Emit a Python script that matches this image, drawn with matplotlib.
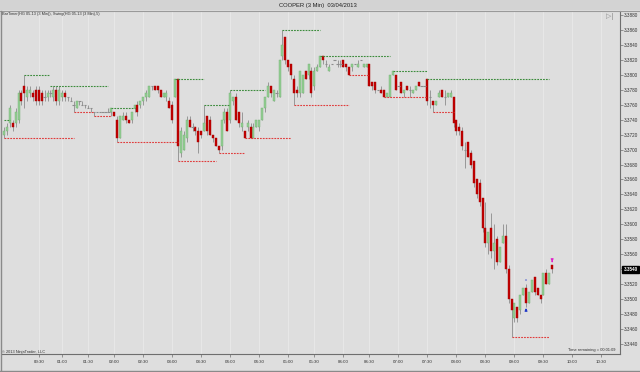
import numpy as np
import matplotlib
matplotlib.use("Agg")
import matplotlib.pyplot as plt
from matplotlib.patches import Rectangle
from matplotlib.lines import Line2D

# ── Data: HG 05-13, 3 min bars (bar index on x) ───────────────
opens = [
    3.3720, 3.3725, 3.3735, 3.3735, 3.3735, 3.3740, 3.3775, 3.3785, 3.3770, 3.3775,
    3.3775, 3.3780, 3.3780, 3.3775, 3.3770, 3.3770, 3.3775, 3.3770, 3.3780, 3.3765,
    3.3770, 3.3775, 3.3770, 3.3765, 3.3760, 3.3755, 3.3765, 3.3760, 3.3760, 3.3755,
    3.3755, 3.3750, 3.3750, 3.3750, 3.3750, 3.3750, 3.3750, 3.3750, 3.3750, 3.3740,
    3.3715, 3.3740, 3.3745, 3.3740, 3.3740, 3.3755, 3.3760, 3.3760, 3.3765, 3.3770,
    3.3770, 3.3785, 3.3785, 3.3785, 3.3780, 3.3770, 3.3770, 3.3765, 3.3760, 3.3770,
    3.3795, 3.3695, 3.3700, 3.3715, 3.3740, 3.3730, 3.3730, 3.3725, 3.3725, 3.3725,
    3.3745, 3.3740, 3.3720, 3.3715, 3.3705, 3.3705, 3.3740, 3.3750, 3.3740, 3.3765,
    3.3770, 3.3750, 3.3730, 3.3725, 3.3730, 3.3730, 3.3715, 3.3730, 3.3730, 3.3740,
    3.3755, 3.3770, 3.3785, 3.3765, 3.3775, 3.3770, 3.3825, 3.3850, 3.3820, 3.3815,
    3.3795, 3.3780, 3.3775, 3.3775, 3.3805, 3.3800, 3.3805, 3.3785, 3.3805, 3.3810,
    3.3825, 3.3815, 3.3805, 3.3815, 3.3820, 3.3815, 3.3815, 3.3820, 3.3815, 3.3810,
    3.3810, 3.3815, 3.3810, 3.3820, 3.3810, 3.3810, 3.3815, 3.3790, 3.3790, 3.3780,
    3.3780, 3.3780, 3.3770, 3.3770, 3.3800, 3.3800, 3.3785, 3.3790, 3.3775, 3.3785,
    3.3780, 3.3775, 3.3780, 3.3790, 3.3785, 3.3785, 3.3795, 3.3770, 3.3765, 3.3760,
    3.3770, 3.3780, 3.3770, 3.3770, 3.3770, 3.3770, 3.3740, 3.3730, 3.3725, 3.3700,
    3.3710, 3.3695, 3.3685, 3.3660, 3.3655, 3.3635, 3.3595, 3.3575, 3.3595, 3.3565,
    3.3580, 3.3550, 3.3575, 3.3585, 3.3540, 3.3500, 3.3475, 3.3490, 3.3485, 3.3505,
    3.3515, 3.3495, 3.3510, 3.3530, 3.3515, 3.3505, 3.3505, 3.3535, 3.3520, 3.3545,
]
highs = [
    3.3730, 3.3735, 3.3760, 3.3740, 3.3755, 3.3780, 3.3780, 3.3800, 3.3785, 3.3785,
    3.3780, 3.3785, 3.3785, 3.3780, 3.3780, 3.3780, 3.3780, 3.3785, 3.3785, 3.3785,
    3.3780, 3.3780, 3.3770, 3.3770, 3.3765, 3.3765, 3.3765, 3.3765, 3.3760, 3.3760,
    3.3755, 3.3750, 3.3750, 3.3750, 3.3750, 3.3750, 3.3755, 3.3755, 3.3750, 3.3745,
    3.3745, 3.3750, 3.3750, 3.3740, 3.3750, 3.3760, 3.3765, 3.3765, 3.3770, 3.3780,
    3.3785, 3.3785, 3.3785, 3.3785, 3.3780, 3.3775, 3.3780, 3.3770, 3.3765, 3.3795,
    3.3795, 3.3730, 3.3725, 3.3745, 3.3745, 3.3735, 3.3730, 3.3730, 3.3725, 3.3760,
    3.3745, 3.3745, 3.3720, 3.3715, 3.3705, 3.3740, 3.3755, 3.3755, 3.3780, 3.3770,
    3.3775, 3.3750, 3.3750, 3.3725, 3.3740, 3.3735, 3.3735, 3.3740, 3.3740, 3.3755,
    3.3770, 3.3790, 3.3785, 3.3780, 3.3780, 3.3820, 3.3860, 3.3850, 3.3820, 3.3815,
    3.3800, 3.3785, 3.3805, 3.3800, 3.3805, 3.3815, 3.3810, 3.3810, 3.3815, 3.3825,
    3.3825, 3.3820, 3.3815, 3.3815, 3.3820, 3.3820, 3.3820, 3.3820, 3.3815, 3.3810,
    3.3815, 3.3815, 3.3820, 3.3820, 3.3815, 3.3815, 3.3815, 3.3790, 3.3790, 3.3780,
    3.3785, 3.3780, 3.3775, 3.3800, 3.3805, 3.3800, 3.3785, 3.3790, 3.3780, 3.3785,
    3.3785, 3.3780, 3.3785, 3.3790, 3.3785, 3.3785, 3.3795, 3.3780, 3.3765, 3.3765,
    3.3780, 3.3780, 3.3780, 3.3775, 3.3780, 3.3770, 3.3740, 3.3735, 3.3730, 3.3710,
    3.3710, 3.3700, 3.3685, 3.3660, 3.3660, 3.3635, 3.3630, 3.3590, 3.3615, 3.3600,
    3.3585, 3.3570, 3.3600, 3.3600, 3.3545, 3.3500, 3.3495, 3.3490, 3.3505, 3.3515,
    3.3520, 3.3510, 3.3525, 3.3530, 3.3515, 3.3505, 3.3535, 3.3540, 3.3535, 3.3545,
]
lows = [
    3.3715, 3.3720, 3.3730, 3.3725, 3.3730, 3.3735, 3.3760, 3.3755, 3.3765, 3.3770,
    3.3765, 3.3760, 3.3760, 3.3760, 3.3765, 3.3765, 3.3770, 3.3765, 3.3760, 3.3760,
    3.3765, 3.3765, 3.3765, 3.3765, 3.3750, 3.3755, 3.3760, 3.3760, 3.3755, 3.3755,
    3.3750, 3.3745, 3.3750, 3.3750, 3.3750, 3.3750, 3.3750, 3.3745, 3.3745, 3.3710,
    3.3715, 3.3740, 3.3735, 3.3735, 3.3735, 3.3750, 3.3745, 3.3755, 3.3760, 3.3765,
    3.3770, 3.3780, 3.3780, 3.3775, 3.3770, 3.3770, 3.3765, 3.3755, 3.3735, 3.3770,
    3.3685, 3.3690, 3.3700, 3.3710, 3.3730, 3.3725, 3.3720, 3.3695, 3.3715, 3.3725,
    3.3720, 3.3720, 3.3710, 3.3705, 3.3695, 3.3700, 3.3735, 3.3725, 3.3735, 3.3760,
    3.3740, 3.3730, 3.3725, 3.3715, 3.3725, 3.3715, 3.3715, 3.3730, 3.3725, 3.3740,
    3.3750, 3.3770, 3.3770, 3.3765, 3.3770, 3.3770, 3.3820, 3.3815, 3.3805, 3.3795,
    3.3760, 3.3770, 3.3770, 3.3775, 3.3795, 3.3795, 3.3770, 3.3780, 3.3805, 3.3810,
    3.3815, 3.3810, 3.3805, 3.3815, 3.3820, 3.3810, 3.3810, 3.3810, 3.3805, 3.3800,
    3.3805, 3.3815, 3.3810, 3.3820, 3.3810, 3.3810, 3.3785, 3.3780, 3.3775, 3.3780,
    3.3775, 3.3770, 3.3770, 3.3770, 3.3800, 3.3780, 3.3785, 3.3775, 3.3770, 3.3780,
    3.3770, 3.3775, 3.3780, 3.3785, 3.3785, 3.3785, 3.3760, 3.3755, 3.3750, 3.3760,
    3.3770, 3.3770, 3.3760, 3.3770, 3.3770, 3.3730, 3.3720, 3.3720, 3.3700, 3.3675,
    3.3690, 3.3675, 3.3650, 3.3635, 3.3625, 3.3590, 3.3570, 3.3560, 3.3555, 3.3540,
    3.3545, 3.3550, 3.3575, 3.3535, 3.3495, 3.3450, 3.3470, 3.3470, 3.3480, 3.3505,
    3.3490, 3.3495, 3.3510, 3.3505, 3.3505, 3.3495, 3.3505, 3.3520, 3.3520, 3.3535,
]
closes = [
    3.3725, 3.3730, 3.3755, 3.3730, 3.3750, 3.3775, 3.3765, 3.3775, 3.3780, 3.3780,
    3.3770, 3.3765, 3.3765, 3.3765, 3.3770, 3.3775, 3.3775, 3.3780, 3.3765, 3.3780,
    3.3775, 3.3770, 3.3770, 3.3765, 3.3760, 3.3765, 3.3765, 3.3760, 3.3760, 3.3755,
    3.3755, 3.3750, 3.3750, 3.3750, 3.3750, 3.3750, 3.3750, 3.3755, 3.3745, 3.3715,
    3.3745, 3.3745, 3.3740, 3.3735, 3.3750, 3.3760, 3.3750, 3.3765, 3.3770, 3.3775,
    3.3785, 3.3785, 3.3780, 3.3780, 3.3770, 3.3775, 3.3775, 3.3755, 3.3740, 3.3795,
    3.3705, 3.3725, 3.3720, 3.3740, 3.3730, 3.3730, 3.3725, 3.3710, 3.3720, 3.3735,
    3.3725, 3.3720, 3.3715, 3.3705, 3.3700, 3.3740, 3.3750, 3.3725, 3.3775, 3.3770,
    3.3740, 3.3735, 3.3735, 3.3715, 3.3735, 3.3715, 3.3730, 3.3740, 3.3740, 3.3755,
    3.3770, 3.3785, 3.3775, 3.3780, 3.3775, 3.3820, 3.3840, 3.3820, 3.3810, 3.3800,
    3.3775, 3.3775, 3.3805, 3.3800, 3.3795, 3.3815, 3.3775, 3.3805, 3.3810, 3.3825,
    3.3820, 3.3815, 3.3810, 3.3815, 3.3820, 3.3815, 3.3815, 3.3810, 3.3810, 3.3800,
    3.3815, 3.3815, 3.3815, 3.3820, 3.3815, 3.3815, 3.3785, 3.3785, 3.3780, 3.3780,
    3.3775, 3.3770, 3.3775, 3.3800, 3.3805, 3.3780, 3.3785, 3.3775, 3.3780, 3.3780,
    3.3780, 3.3780, 3.3785, 3.3785, 3.3785, 3.3785, 3.3765, 3.3770, 3.3760, 3.3765,
    3.3775, 3.3770, 3.3770, 3.3775, 3.3775, 3.3735, 3.3725, 3.3725, 3.3705, 3.3700,
    3.3690, 3.3680, 3.3655, 3.3640, 3.3630, 3.3595, 3.3575, 3.3590, 3.3565, 3.3575,
    3.3550, 3.3570, 3.3585, 3.3540, 3.3500, 3.3485, 3.3495, 3.3475, 3.3505, 3.3515,
    3.3495, 3.3510, 3.3525, 3.3510, 3.3505, 3.3500, 3.3535, 3.3520, 3.3535, 3.3540,
]

# Swing indicator (strength 5): start bar, end bar, price
swing_hi_start = [0, 7, 16, 37, 59, 69, 78, 96, 109, 134, 146]
swing_hi_end   = [2, 16, 36, 45, 69, 78, 90, 109, 133, 146, 188]
swing_hi_price = [3.3740, 3.3800, 3.3785, 3.3755, 3.3795, 3.3760, 3.3780,
                  3.3860, 3.3825, 3.3805, 3.3795]
swing_lo_start = [0, 24, 31, 39, 60, 74, 83, 100, 119, 131, 148, 175]
swing_lo_end   = [24, 31, 37, 60, 73, 83, 99, 119, 126, 146, 155, 188]
swing_lo_price = [3.3715, 3.3750, 3.3745, 3.3710, 3.3685, 3.3695, 3.3715,
                  3.3760, 3.3800, 3.3770, 3.3750, 3.3450]

# entry signals (bar index)
long_signal_bars = [180]
short_signal_bars = [189]

# time axis labels (bar index where each half hour starts)
time_tick_bars = [12, 20, 29, 38, 48, 58, 68, 78, 88, 98, 107, 117, 126, 136,
                  146, 156, 166, 176, 186, 196, 206]
time_tick_labels = ["00:30", "01:00", "01:30", "02:00", "02:30", "03:00", "03:30",
                    "04:00", "04:30", "05:00", "05:30", "06:00", "06:30", "07:00",
                    "07:30", "08:00", "08:30", "09:00", "09:30", "10:00", "10:30"]
price_ticks = np.arange(3.3440, 3.38801, 0.002)

# ── Figure ────────────────────────────────────────────────────
plt.rcParams["font.family"] = ["Liberation Sans", "DejaVu Sans"]

BG = "#dedede"
fig = plt.figure(figsize=(6.4, 3.72), dpi=100, facecolor=BG)
W, H = 640.0, 372.0
ax = fig.add_axes([2 / W, 18 / H, 618 / W, 343 / H])
ax.set_facecolor(BG)

# title bar
fig.add_artist(Rectangle((0, 1 - 10 / H), 1, 10 / H, transform=fig.transFigure,
                         facecolor="#d3d3d3", edgecolor="none", zorder=0))
fig.add_artist(Line2D([0, 1], [1 - 10.5 / H, 1 - 10.5 / H], transform=fig.transFigure,
                      color="#9a9a9a", lw=0.8))
fig.add_artist(Line2D([0, 1], [1.5 / H, 1.5 / H], transform=fig.transFigure,
                      color="#8a8a8a", lw=1.0))
fig.add_artist(Line2D([0.8 / W, 0.8 / W], [1.5 / H, 1 - 10.5 / H], transform=fig.transFigure,
                      color="#8a8a8a", lw=1.0))
fig.text(0.497, 1 - 5.5 / H, "COOPER (3 Min)  03/04/2013", ha="center", va="center",
         fontsize=4.2, color="#202020")

o = np.array(opens)
h = np.array(highs)
l = np.array(lows)
c = np.array(closes)
x = np.arange(len(o))
up = c > o
dn = c < o
dj = c == o

# grid
for t in time_tick_bars:
    ax.axvline(t, color="#e9e9e9", lw=0.6, zorder=0)

# candles
ax.vlines(x, l, h, color="#8c8c8c", lw=0.6, zorder=2)
ax.bar(x[up], c[up] - o[up], bottom=o[up], width=0.7, color="#93cd93",
       edgecolor="#72b272", lw=0.3, zorder=3)
ax.bar(x[dn], o[dn] - c[dn], bottom=c[dn], width=0.7, color="#c00000",
       edgecolor="#a80000", lw=0.3, zorder=3)
ax.hlines(o[dj], x[dj] - 0.4, x[dj] + 0.4, color="#8c8c8c", lw=0.8, zorder=3)

# swing lines
ax.hlines(swing_hi_price, swing_hi_start, swing_hi_end, colors="#3c8c3c",
          linestyles=(0, (1.6, 1.0)), lw=0.8, zorder=4)
ax.hlines(swing_lo_price, swing_lo_start, swing_lo_end, colors="#e03c3c",
          linestyles=(0, (1.6, 1.0)), lw=0.8, zorder=4)

# signals
for b in long_signal_bars:
    ax.annotate("", xy=(b, l[b] - 0.0002), xytext=(b, l[b] - 0.0009),
                arrowprops=dict(arrowstyle="-|>", color="#2038c8", lw=0.8,
                                mutation_scale=3.5), zorder=5)
    ax.text(b, h[b] + 0.0003, "x", color="#2038c8", fontsize=3, ha="center",
            va="bottom")
for b in short_signal_bars:
    ax.annotate("", xy=(b, h[b] + 0.0001), xytext=(b, h[b] + 0.0009),
                arrowprops=dict(arrowstyle="-|>", color="#e020c8", lw=0.8,
                                mutation_scale=3.5), zorder=5)

ax.set_xlim(-0.7, 212.4)
ax.set_ylim(3.34266, 3.38853)

# axes styling
for s in ["top", "left"]:
    ax.spines[s].set_visible(False)
ax.spines["right"].set_color("#6e6e6e")
ax.spines["bottom"].set_color("#6e6e6e")
ax.spines["right"].set_linewidth(0.8)
ax.spines["bottom"].set_linewidth(0.8)

ax.yaxis.tick_right()
ax.set_yticks(price_ticks)
ax.set_yticklabels([f"{p:.4f}" for p in price_ticks])
ax.tick_params(axis="y", length=2, width=0.5, color="#6e6e6e", labelsize=3.3,
               labelcolor="#303030", pad=1)
ax.set_xticks(time_tick_bars)
ax.set_xticklabels(time_tick_labels)
ax.tick_params(axis="x", length=2.5, width=0.5, color="#6e6e6e", labelsize=3.2,
               labelcolor="#303030", pad=1.5)

# current price marker
last = c[-1]
ax.annotate(f"{last:.4f}", xy=(1.0, last), xycoords=("axes fraction", "data"),
            xytext=(2.5, 0), textcoords="offset points", ha="left", va="center",
            fontsize=3.3, color="white", fontweight="bold",
            bbox=dict(boxstyle="square,pad=0.25", fc="black", ec="black"),
            annotation_clip=False)

# texts
fig.text(2 / W, 1 - 14.5 / H, "BarTimer(HG 05-13 (3 Min)), Swing(HG 05-13 (3 Min),5)",
         fontsize=2.8, color="#303030", va="center", ha="left")
fig.text(2 / W, 1 - 352.5 / H, "© 2013 NinjaTrader, LLC", fontsize=2.8,
         color="#303030", va="center", ha="left")
fig.text(616 / W, 1 - 350.5 / H, "Time remaining = 00:01:09", fontsize=2.9,
         color="#303030", va="center", ha="right")
fig.text(610 / W, 1 - 17 / H, "▷|", fontsize=5, color="#8a8a8a", va="center",
         ha="center", family="DejaVu Sans")

fig.savefig("out.png", dpi=100, facecolor=BG)
